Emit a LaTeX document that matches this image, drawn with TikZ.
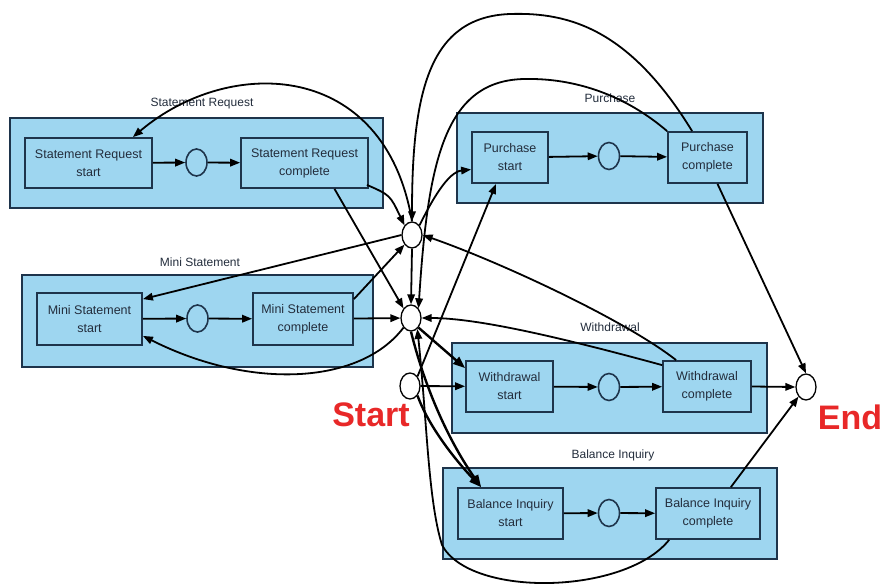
\documentclass[tikz,border=0pt]{standalone}
\usepackage{fontspec}
\setmainfont{Liberation Sans}
\usetikzlibrary{arrows.meta,shapes.geometric,calc}
\definecolor{boxfill}{RGB}{158,214,240}
\definecolor{boxline}{RGB}{30,52,75}
\definecolor{lbl}{RGB}{35,45,60}
\definecolor{redlbl}{RGB}{232,40,40}
\begin{document}
\begin{tikzpicture}[x=1pt,y=-1pt,
  grp/.style={draw=boxline, fill=boxfill, line width=2pt, rectangle, inner sep=0pt},
  tbox/.style={draw=boxline, fill=boxfill, line width=1.8pt, rectangle, inner sep=0pt, align=center, text=lbl, font=\fontsize{12.5}{18}\selectfont},
  gcirc/.style={draw=boxline, fill=boxfill, line width=1.6pt, ellipse, minimum width=21pt, minimum height=27pt, inner sep=0pt},
  hub/.style={draw=black, fill=white, line width=1.3pt, ellipse, minimum width=20pt, minimum height=26pt, inner sep=0pt},
  gtitle/.style={text=lbl, font=\fontsize{12}{12}\selectfont},
  redtxt/.style={text=redlbl, font=\bfseries\fontsize{34}{34}\selectfont},
  arr/.style={draw=black, line width=1.8pt, -{Triangle[length=10pt,width=7.5pt]}},
  bigarr/.style={draw=black, line width=2.4pt, -{Triangle[length=12pt,width=9pt]}}
]
\useasboundingbox (0,0) rectangle (883,585);

% groups
\node[grp, minimum width=373pt, minimum height=90pt] (gSR) at (196.5,163) {};
\node[grp, minimum width=351pt, minimum height=92pt] (gMS) at (197.5,321) {};
\node[grp, minimum width=306pt, minimum height=90pt] (gP) at (610,158) {};
\node[grp, minimum width=315pt, minimum height=90pt] (gW) at (609.5,388) {};
\node[grp, minimum width=334pt, minimum height=91pt] (gBI) at (610,513.5) {};

% group titles
\node[gtitle] (tSR) at (202,104) {Statement Request};
\node[gtitle] (tMS) at (200,262) {Mini Statement};
\node[gtitle] (tP) at (610,98) {Purchase};
\node[gtitle] (tW) at (610,327) {Withdrawal};
\node[gtitle] (tBI) at (613,455) {Balance Inquiry};

% inner boxes
\node[tbox, minimum width=127pt, minimum height=50pt] (srs) at (88.5,163) {Statement Request\\start};
\node[tbox, minimum width=127pt, minimum height=50pt] (src) at (304.5,163) {Statement Request\\complete};
\node[tbox, minimum width=105pt, minimum height=52pt] (mss) at (89.5,319) {Mini Statement\\start};
\node[tbox, minimum width=100pt, minimum height=52pt] (msc) at (303,319) {Mini Statement\\complete};
\node[tbox, minimum width=76pt, minimum height=51pt] (ps) at (510,157.5) {Purchase\\start};
\node[tbox, minimum width=79pt, minimum height=51pt] (pc) at (707.5,157.5) {Purchase\\complete};
\node[tbox, minimum width=87pt, minimum height=51pt] (ws) at (509.5,386.5) {Withdrawal\\start};
\node[tbox, minimum width=88pt, minimum height=51pt] (wc) at (707,386.5) {Withdrawal\\complete};
\node[tbox, minimum width=105pt, minimum height=51pt] (bs) at (510.5,513.5) {Balance Inquiry\\start};
\node[tbox, minimum width=104pt, minimum height=51pt] (bc) at (708,513.5) {Balance Inquiry\\complete};

% group circles
\node[gcirc] (csr) at (196.5,162.5) {};
\node[gcirc] (cms) at (197.5,318.5) {};
\node[gcirc] (cp) at (609,156) {};
\node[gcirc] (cw) at (609,387) {};
\node[gcirc] (cbi) at (609,513) {};

% hubs
\node[hub] (h1) at (412,235) {};
\node[hub] (h2) at (411,318) {};
\node[hub] (st) at (410,386) {};
\node[hub] (en) at (806,387) {};

% labels
\node[redtxt] (lstart) at (371,415) {Start};
\node[redtxt] (lend) at (850,417) {End};

% in-group arrows
\draw[arr] (srs) -- (csr);
\draw[arr] (csr) -- (src);
\draw[arr] (mss) -- (cms);
\draw[arr] (cms) -- (msc);
\draw[arr] (ps) -- (cp);
\draw[arr] (cp) -- (pc);
\draw[arr] (ws) -- (cw);
\draw[arr] (cw) -- (wc);
\draw[arr] (bs) -- (cbi);
\draw[arr] (cbi) -- (bc);

% hub connectors
\draw[arr] ($(src.south east)+(-2,-4)$) .. controls (390,195) .. (h1.north west);
\draw[arr] ($(src.south)+(30,0)$) -- (h2.north west);
\draw[arr] (h1.north) .. controls (385,60) and (230,55) .. ($(srs.north east)+(-20,0)$);
\draw[arr] ($(pc.north west)+(25,0)$) .. controls (630,30) and (570,12) .. (510,14) .. controls (430,17) and (412,90) .. (h1.north);
\draw[arr] (pc.north west) .. controls (625,95) and (575,78) .. (525,79) .. controls (445,80) and (428,160) .. (h2.north east);
\draw[arr] (h1.north east) .. controls (432,200) and (448,172) .. ($(ps.west)+(0,12)$);
\draw[arr] (st.north east) -- ($(ps.south)+(-14,0)$);
\draw[arr] ($(pc.south)+(10,0)$) -- (en.north);
\draw[arr] ($(wc.north west)+(14,0)$) .. controls (625,320) and (500,262) .. (h1.east);
\draw[arr] ($(wc.north west)+(0,5)$) .. controls (570,340) and (480,318) .. (h2.east);
\draw[arr] (wc.east) -- (en.west);
\draw[arr] ($(bc.north east)+(-30,0)$) -- (en.south west);
\draw[arr] (st) -- (ws);
\draw[bigarr] (h2.south east) -- ($(ws.north west)+(0,8)$);
\draw[bigarr] (h2.south) .. controls (428,400) and (455,450) .. ($(bs.north west)+(24,0)$);
\draw[bigarr] (st.south east) .. controls (430,430) and (460,465) .. ($(bs.north west)+(24,0)$);
\draw[arr] ($(bc.south west)+(14,0)$) .. controls (625,595) and (470,598) .. (442,545) .. controls (428,500) and (427,420) .. (h2.-60);
\draw[arr] (msc) -- (h2);
\draw[arr] ($(msc.north east)+(0,7)$) -- (h1.south west);
\draw[arr] (h1.west) -- ($(mss.north east)+(0,7)$);
\draw[arr] (h2.south west) .. controls (360,385) and (250,390) .. ($(mss.south east)+(0,-10)$);
\draw[arr] (h1.south) -- (h2.north);
\end{tikzpicture}
\end{document}
